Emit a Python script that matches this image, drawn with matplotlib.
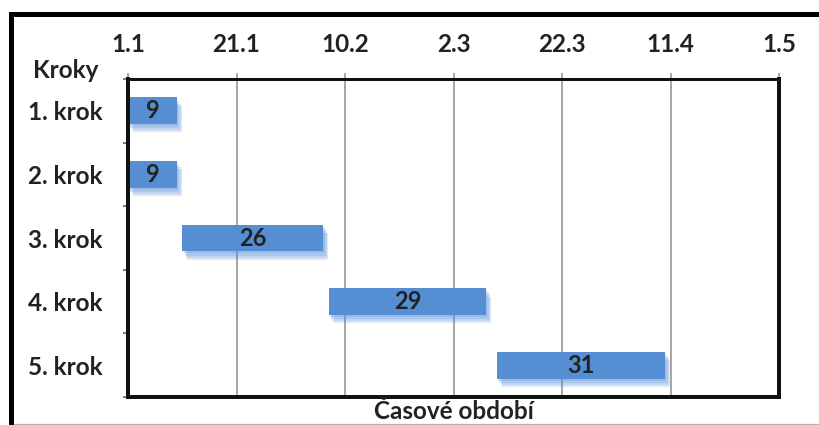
import matplotlib
matplotlib.use("Agg")
import matplotlib.pyplot as plt
from matplotlib.patches import Rectangle
from matplotlib.lines import Line2D
import matplotlib.patheffects as pe

# Gantt data: day offsets from 1.1 and durations in days
steps = ["1. krok", "2. krok", "3. krok", "4. krok", "5. krok"]
start_day = [0, 0, 10, 37, 68]
duration = [9, 9, 26, 29, 31]
date_ticks = [0, 20, 40, 60, 80, 100, 120]
date_labels = ["1.1", "21.1", "10.2", "2.3", "22.3", "11.4", "1.5"]

W, H = 820, 425
plt.rcParams["font.family"] = ["Lato", "DejaVu Sans"]
fig = plt.figure(figsize=(W / 100, H / 100), dpi=100)

px = 0.72  # points per pixel at 100 dpi
fs = 17.5
text_color = "#222222"
left, right, top, bottom = 128, 779, 79, 397
ax = fig.add_axes([left / W, 1 - bottom / H, (right - left) / W, (bottom - top) / H])

bar_color = "#568ed4"
ypos = list(range(len(steps)))

# soft drop shadow under each bar
shadow = [pe.SimplePatchShadow(offset=(o * 0.6, -o), shadow_rgbFace=bar_color, alpha=0.2)
          for o in (1.5, 3, 4.5, 6)]
ax.barh(ypos, duration, left=start_day, height=0.42, color=bar_color,
        zorder=3, path_effects=shadow + [pe.Normal()])

for s, d, y in zip(start_day, duration, ypos):
    ax.text(s + d / 2, y, str(d), ha="center", va="center", fontsize=fs - 0.5,
            fontweight="bold", color=text_color, zorder=4)

ax.set_xlim(0, 120)
ax.set_ylim(len(steps) - 0.5, -0.5)

ax.xaxis.tick_top()
ax.set_xticks(date_ticks, date_labels)
ax.tick_params(axis="x", which="major", length=6 * px, width=1.5 * px, color="#8c8c8c",
               pad=12, labelsize=fs)
for lbl in ax.get_xticklabels():
    lbl.set_fontweight("bold")
    lbl.set_color(text_color)
ax.grid(axis="x", color="#8c8c8c", linewidth=1.5 * px, zorder=1)

ax.set_yticks(ypos, steps)
ax.tick_params(axis="y", which="major", length=0, pad=18, labelsize=fs)
for lbl in ax.get_yticklabels():
    lbl.set_fontweight("bold")
    lbl.set_color(text_color)
ax.set_yticks([y - 0.5 for y in ypos] + [len(steps) - 0.5], minor=True)
ax.tick_params(axis="y", which="minor", length=5 * px, width=1.5 * px, color="#555555")

ax.spines["top"].set_linewidth(3 * px)
for side in ("left", "bottom", "right"):
    ax.spines[side].set_linewidth(4 * px)
for sp in ax.spines.values():
    sp.set_color("#111111")
    sp.set_zorder(5)

fig.text(66 / W, 1 - 70 / H, "Kroky", ha="center", va="center", fontsize=fs,
         fontweight="bold", color=text_color)
fig.text((left + right) / 2 / W, 1 - 419 / H, "Časové období", ha="center", va="baseline",
         fontsize=fs, fontweight="bold", color=text_color)

# outer frame around the chart
frame_top = 1 - 14 / H
fig.patches.append(Rectangle((11 / W, -0.2), 1.2, frame_top + 0.2, transform=fig.transFigure,
                             fill=False, edgecolor="#000000", linewidth=5 * px))
fig.lines.append(Line2D([14 / W, 1], [1 - 424 / H, 1 - 424 / H], transform=fig.transFigure,
                        color="#b0b0b0", linewidth=1.2 * px))

fig.savefig("out.png", dpi=100)
